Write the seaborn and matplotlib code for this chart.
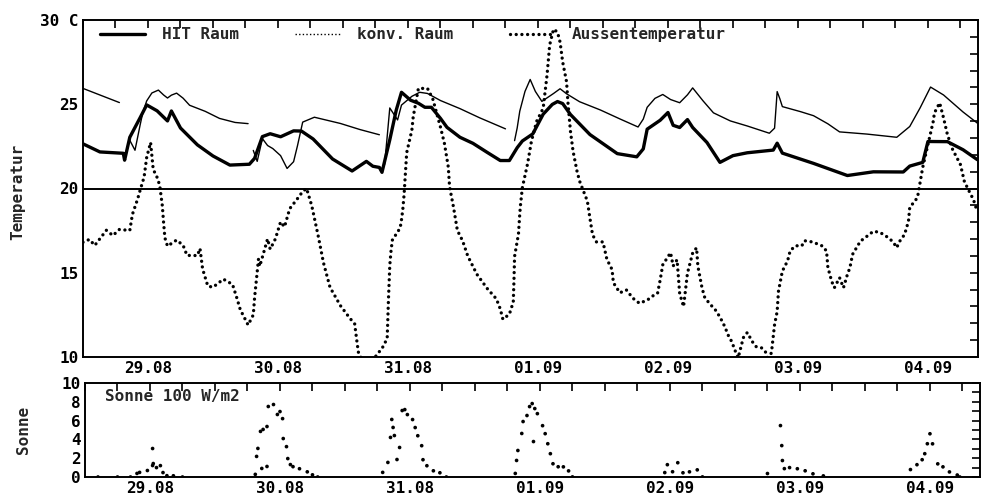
import numpy as np
import pandas as pd
import matplotlib
matplotlib.use("Agg")
import matplotlib.pyplot as plt
import seaborn as sns
from matplotlib.lines import Line2D
from matplotlib.ticker import MultipleLocator, FixedLocator

# ---------------- data (x in days from 29.08 00:00) ----------------
date_labels = ["29.08", "30.08", "31.08", "01.09", "02.09", "03.09", "04.09"]
date_pos = [0.5, 1.5, 2.5, 3.5, 4.5, 5.5, 6.5]

hit_day = [0, 0.13, 0.31, 0.32, 0.36, 0.44, 0.49, 0.57, 0.65, 0.68, 0.75, 0.88,
           1.0, 1.13, 1.28, 1.32, 1.38, 1.44, 1.52, 1.62, 1.68, 1.77, 1.92, 2.07,
           2.18, 2.23, 2.28, 2.30, 2.36, 2.41, 2.45, 2.52, 2.58, 2.63, 2.68, 2.75,
           2.80, 2.90, 3.0, 3.11, 3.21, 3.28, 3.34, 3.38, 3.46, 3.54, 3.61, 3.65,
           3.69, 3.75, 3.9, 4.11, 4.26, 4.31, 4.34, 4.44, 4.5, 4.54, 4.59, 4.65,
           4.69, 4.8, 4.9, 5.0, 5.11, 5.31, 5.34, 5.38, 5.62, 5.88, 6.08, 6.31,
           6.36, 6.46, 6.5, 6.65, 6.77, 6.88]
hit_temp = [22.65, 22.17, 22.09, 21.68, 23.04, 24.21, 24.96, 24.61, 24.01, 24.6, 23.59, 22.59,
            21.93, 21.39, 21.44, 21.79, 23.08, 23.25, 23.07, 23.42, 23.41, 22.94, 21.75, 21.04,
            21.61, 21.32, 21.25, 20.96, 22.89, 24.66, 25.71, 25.24, 25.06, 24.82, 24.82, 24.16,
            23.63, 23.04, 22.68, 22.14, 21.66, 21.66, 22.42, 22.82, 23.24, 24.41, 24.99, 25.16,
            25.04, 24.39, 23.2, 22.07, 21.88, 22.35, 23.52, 24.05, 24.51, 23.75, 23.62, 24.09,
            23.62, 22.73, 21.55, 21.95, 22.12, 22.28, 22.69, 22.1, 21.49, 20.77, 20.99, 20.98,
            21.33, 21.55, 22.79, 22.78, 22.3, 21.71]

konv_day = [0, 0.08, 0.18, 0.28,
            0.34, 0.36, 0.40, 0.44, 0.46, 0.49, 0.53, 0.58, 0.62, 0.65, 0.68, 0.72, 0.77,
            0.82, 0.94, 1.05, 1.17, 1.27,
            1.31, 1.34, 1.38, 1.42, 1.46, 1.52, 1.57, 1.62, 1.65, 1.69, 1.78, 1.98, 2.13, 2.28,
            2.32, 2.34, 2.36, 2.42, 2.45, 2.53, 2.59, 2.65, 2.75, 2.9, 3.05, 3.25,
            3.32, 3.34, 3.36, 3.4, 3.44, 3.48, 3.53, 3.62, 3.67, 3.72, 3.82, 3.98, 4.13, 4.27,
            4.31, 4.34, 4.4, 4.46, 4.52, 4.59, 4.65, 4.69, 4.77, 4.85, 4.98, 5.11, 5.28, 5.32,
            5.34, 5.36, 5.38, 5.52, 5.62, 5.73, 5.82, 6.03, 6.26, 6.36, 6.44, 6.52, 6.62, 6.77,
            6.88]
konv_temp = [25.94, 25.7, 25.4, 25.1,
             22.45, 22.86, 22.27, 23.79, 24.5, 25.2, 25.67, 25.84, 25.55, 25.37, 25.54, 25.66, 25.36,
             24.94, 24.58, 24.16, 23.92, 23.85,
             22.26, 21.61, 22.96, 22.55, 22.37, 21.95, 21.19, 21.59, 22.54, 23.94, 24.23, 23.86, 23.5, 23.19,
             21.43, 23.08, 24.78, 24.07, 24.95, 25.47, 25.71, 25.64, 25.22, 24.74, 24.2, 23.54,
             22.84, 23.59, 24.59, 25.76, 26.47, 25.76, 25.17, 25.64, 25.92, 25.62, 25.15, 24.66, 24.13, 23.65,
             24.12, 24.82, 25.35, 25.58, 25.28, 25.09, 25.56, 25.97, 25.2, 24.49, 24.01, 23.71, 23.28, 23.58,
             25.75, 25.34, 24.86, 24.56, 24.32, 23.84, 23.36, 23.23, 23.04, 23.68, 24.79, 26.02, 25.55, 24.54,
             23.88]
konv_seg = [0] * 4 + [1] * 18 + [2] * 14 + [3] * 12 + [4] * 43

out_day = [0, 0.05, 0.09, 0.18, 0.23, 0.28, 0.36, 0.38, 0.42, 0.44, 0.47, 0.49, 0.52, 0.54,
           0.57, 0.59, 0.61, 0.62, 0.63, 0.65, 0.72, 0.77, 0.8, 0.88, 0.9, 0.92, 0.96, 1.0,
           1.08, 1.15, 1.18, 1.21, 1.27, 1.31, 1.32, 1.35, 1.36, 1.42, 1.44, 1.48, 1.52, 1.55,
           1.59, 1.65, 1.69, 1.72, 1.76, 1.81, 1.85, 1.9, 1.98, 2.05, 2.09, 2.11, 2.12, 2.19,
           2.26, 2.3, 2.34, 2.35, 2.36, 2.37, 2.38, 2.44, 2.45, 2.46, 2.47, 2.49, 2.53, 2.54,
           2.58, 2.65, 2.69, 2.75, 2.78, 2.81, 2.82, 2.85, 2.88, 2.92, 2.96, 3.03, 3.11, 3.18,
           3.21, 3.23, 3.28, 3.31, 3.315, 3.32, 3.35, 3.36, 3.365, 3.38, 3.42, 3.45, 3.49, 3.54,
           3.57, 3.59, 3.62, 3.65, 3.67, 3.69, 3.72, 3.73, 3.75, 3.77, 3.8, 3.82, 3.85, 3.88,
           3.9, 3.92, 3.95, 4.0, 4.03, 4.07, 4.08, 4.13, 4.18, 4.23, 4.28, 4.34, 4.38, 4.42,
           4.44, 4.46, 4.52, 4.54, 4.57, 4.59, 4.62, 4.65, 4.69, 4.72, 4.73, 4.76, 4.78, 4.82,
           4.86, 4.9, 4.94, 4.96, 4.99, 5.02, 5.04, 5.08, 5.11, 5.15, 5.18, 5.22, 5.25, 5.28,
           5.3, 5.32, 5.34, 5.35, 5.38, 5.42, 5.44, 5.48, 5.53, 5.55, 5.61, 5.65, 5.69, 5.72,
           5.73, 5.76, 5.78, 5.82, 5.85, 5.88, 5.9, 5.92, 5.98, 6.03, 6.08, 6.13, 6.18, 6.23,
           6.26, 6.28, 6.32, 6.35, 6.36, 6.4, 6.42, 6.46, 6.5, 6.54, 6.55, 6.59, 6.62, 6.65,
           6.69, 6.75, 6.78, 6.81, 6.85, 6.88]
out_temp = [16.81, 16.98, 16.62, 17.52, 17.21, 17.57, 17.51, 18.46, 19.37, 19.91, 20.68, 21.85, 22.73, 21.14,
            20.66, 20.19, 18.99, 17.97, 17.07, 16.58, 16.94, 16.63, 16.03, 16.02, 16.44, 15.23, 14.21, 14.14,
            14.62, 14.31, 13.59, 12.81, 11.9, 12.5, 13.52, 15.81, 15.39, 17.01, 16.4, 17.01, 18.02, 17.72,
            18.8, 19.4, 19.82, 20.0, 18.97, 17.16, 15.59, 14.14, 13.05, 12.33, 11.96, 10.75, 10.21, 9.3,
            10.14, 10.5, 11.1, 13.45, 15.44, 16.34, 16.94, 17.66, 18.14, 18.74, 19.64, 22.12, 23.47, 24.24,
            25.94, 25.94, 25.34, 23.64, 22.69, 21.28, 20.1, 18.9, 17.51, 16.9, 15.99, 14.91, 14.06, 13.45,
            12.85, 12.24, 12.54, 13.26, 14.46, 15.97, 17.3, 18.5, 18.98, 20.06, 21.47, 22.82, 23.99, 24.76,
            26.75, 28.52, 29.46, 29.28, 28.69, 27.51, 26.33, 25.15, 23.39, 22.21, 21.04, 20.44, 19.85, 19.25,
            18.22, 17.25, 16.83, 16.83, 15.8, 15.19, 14.41, 13.81, 13.98, 13.49, 13.19, 13.37, 13.61, 13.78,
            14.57, 15.47, 16.19, 15.4, 15.77, 13.77, 12.99, 14.98, 16.17, 16.48, 15.39, 14.18, 13.58, 13.16,
            12.85, 12.37, 11.76, 11.34, 10.92, 10.31, 9.95, 11.15, 11.45, 10.9, 10.6, 10.54, 10.3, 9.6,
            10.53, 11.92, 12.7, 13.9, 15.1, 15.7, 16.3, 16.6, 16.6, 16.9, 16.83, 16.71, 16.58, 16.28,
            15.32, 14.48, 14.11, 14.71, 14.11, 14.89, 15.31, 16.09, 16.87, 17.16, 17.46, 17.4, 17.16, 16.85,
            16.49, 16.84, 17.27, 18.05, 18.89, 19.25, 19.49, 21.26, 22.61, 23.96, 24.49, 25.08, 24.19, 23.19,
            22.31, 21.42, 20.42, 19.94, 19.34, 18.61]

sun_day = [0.1, 0.25, 0.35, 0.4, 0.42, 0.48, 0.52, 0.52, 0.525, 0.55, 0.58, 0.6, 0.63, 0.68, 0.75,
           1.31, 1.32, 1.33, 1.35, 1.36, 1.37, 1.4, 1.4, 1.41, 1.45, 1.48, 1.5, 1.52, 1.525, 1.55,
           1.56, 1.58, 1.6, 1.65, 1.71, 1.75, 1.79,
           2.29, 2.33, 2.35, 2.36, 2.37, 2.38, 2.4, 2.42, 2.44, 2.46, 2.48, 2.52, 2.54, 2.56, 2.59,
           2.6, 2.63, 2.68, 2.73, 2.78,
           3.31, 3.32, 3.33, 3.36, 3.37, 3.4, 3.42, 3.44, 3.46, 3.48, 3.45, 3.52, 3.54, 3.56, 3.58,
           3.6, 3.64, 3.68, 3.72, 3.75,
           4.46, 4.48, 4.52, 4.56, 4.6, 4.65, 4.71, 4.75,
           5.25, 5.35, 5.36, 5.365, 5.38, 5.42, 5.48, 5.54, 5.6, 5.68,
           6.35, 6.4, 6.44, 6.46, 6.48, 6.5, 6.52, 6.56, 6.6, 6.65, 6.71, 6.73]
sun_val = [0.0, 0.0, 0.0, 0.38, 0.49, 0.69, 1.22, 3.03, 1.43, 1.0, 1.21, 0.47, 0.14, 0.13, 0.0,
           0.28, 2.19, 3.04, 4.85, 0.91, 5.06, 5.37, 1.12, 7.5, 7.71, 6.65, 6.96, 6.21, 4.09, 3.23,
           1.96, 1.32, 1.1, 0.88, 0.55, 0.23, 0.0,
           0.49, 1.55, 4.21, 6.12, 5.27, 4.41, 1.86, 3.14, 7.07, 7.17, 6.64, 6.11, 5.26, 4.39, 3.33,
           1.84, 1.2, 0.66, 0.45, 0.0,
           0.38, 1.76, 2.82, 4.63, 5.9, 6.54, 7.49, 7.81, 7.28, 6.74, 3.77, 5.46, 4.61, 3.54, 2.48,
           1.41, 1.09, 1.08, 0.65, 0.01,
           0.47, 1.31, 0.56, 1.52, 0.45, 0.55, 0.76, 0.01,
           0.37, 5.47, 3.34, 1.75, 0.89, 1.0, 0.88, 0.66, 0.34, 0.12,
           0.79, 1.31, 1.84, 2.48, 3.54, 4.6, 3.53, 1.4, 1.08, 0.54, 0.21, 0.0]

# ---------------- style ----------------
sns.set_theme(style="white")
plt.rcParams['font.family'] = ['DejaVu Sans Mono', 'DejaVu Sans']
plt.rcParams['font.weight'] = 'bold'
plt.rcParams['axes.edgecolor'] = 'black'
plt.rcParams['xtick.color'] = 'black'
plt.rcParams['ytick.color'] = 'black'

FS = 11.5
fig = plt.figure(figsize=(9.85, 4.97), dpi=100)
fig.patch.set_facecolor('white')
ax1 = fig.add_axes([83 / 985, (497 - 357) / 497, 895 / 985, 337 / 497])
ax2 = fig.add_axes([85 / 985, (497 - 477) / 497, 895 / 985, 94 / 497])

hit_df = pd.DataFrame({'day': hit_day, 'temp': hit_temp})
konv_df = pd.DataFrame({'day': konv_day, 'temp': konv_temp, 'seg': konv_seg})
out_df = pd.DataFrame({'day': out_day, 'temp': out_temp})
sun_df = pd.DataFrame({'day': sun_day, 'val': sun_val})

ax1.axhline(20, color='black', lw=1.4, zorder=1)

sns.lineplot(data=out_df, x='day', y='temp', ax=ax1, color='black', lw=2.4,
             sort=False, estimator=None, linestyle=(0, (0.01, 1.7)),
             dash_capstyle='round', zorder=2)
sns.lineplot(data=konv_df, x='day', y='temp', units='seg', ax=ax1, color='black',
             lw=1.0, sort=False, estimator=None, zorder=3)
sns.lineplot(data=hit_df, x='day', y='temp', ax=ax1, color='black', lw=2.4,
             sort=False, estimator=None, zorder=4)

sns.scatterplot(data=sun_df, x='day', y='val', ax=ax2, color='black', s=7,
                edgecolor='none', zorder=3)

# ---------------- axes ----------------
xmax = 6.885
minor_x = [i * 0.25 for i in range(28)]
for ax in (ax1, ax2):
    ax.set_xlim(0, xmax)
    ax.xaxis.set_major_locator(FixedLocator(date_pos))
    ax.set_xticklabels(date_labels, fontsize=FS, fontweight='bold')
    ax.xaxis.set_minor_locator(FixedLocator(minor_x))
    ax.tick_params(axis='both', which='both', direction='in', top=True, right=True,
                   width=1.2, length=6, labelsize=FS, pad=3)
    for s in ax.spines.values():
        s.set_linewidth(1.4)
        s.set_color('black')
    ax.set_xlabel('')
    ax.grid(False)
    ax.set_facecolor('white')

ax1.set_ylim(10, 30)
ax1.set_yticks([10, 15, 20, 25, 30])
ax1.set_yticklabels(["10", "15", "20", "25", "30 C"], fontsize=FS, fontweight='bold')
ax1.yaxis.set_minor_locator(MultipleLocator(1))
ax1.set_ylabel('Temperatur', fontsize=FS, fontweight='bold')
ax1.yaxis.set_label_coords(-0.064, 0.49)

ax2.set_ylim(0, 10)
ax2.set_yticks([0, 2, 4, 6, 8, 10])
ax2.set_yticklabels(["0", "2", "4", "6", "8", "10"], fontsize=FS, fontweight='bold')
ax2.yaxis.set_minor_locator(MultipleLocator(1))
ax2.set_ylabel('Sonne', fontsize=FS, fontweight='bold')
ax2.yaxis.set_label_coords(-0.06, 0.5)
ax2.text(0.022, 0.86, 'Sonne 100 W/m2', transform=ax2.transAxes, fontsize=FS,
         fontweight='bold', va='center', ha='left')

handles = [
    Line2D([], [], color='black', lw=2.4),
    Line2D([], [], color='black', lw=1.0, linestyle=(0, (1, 1.6))),
    Line2D([], [], color='black', lw=2.4, linestyle=(0, (0.01, 1.7)), dash_capstyle='round'),
]
ax1.legend(handles, ['HIT Raum', 'konv. Raum', 'Aussentemperatur'], ncol=3,
           loc='upper left', bbox_to_anchor=(0.019, 0.978), frameon=False,
           borderpad=0, borderaxespad=0, handlelength=2.8, handletextpad=1.1,
           columnspacing=3.5, prop={'family': 'DejaVu Sans Mono', 'weight': 'bold', 'size': FS})

fig.savefig('out.png', dpi=100, facecolor='white')
